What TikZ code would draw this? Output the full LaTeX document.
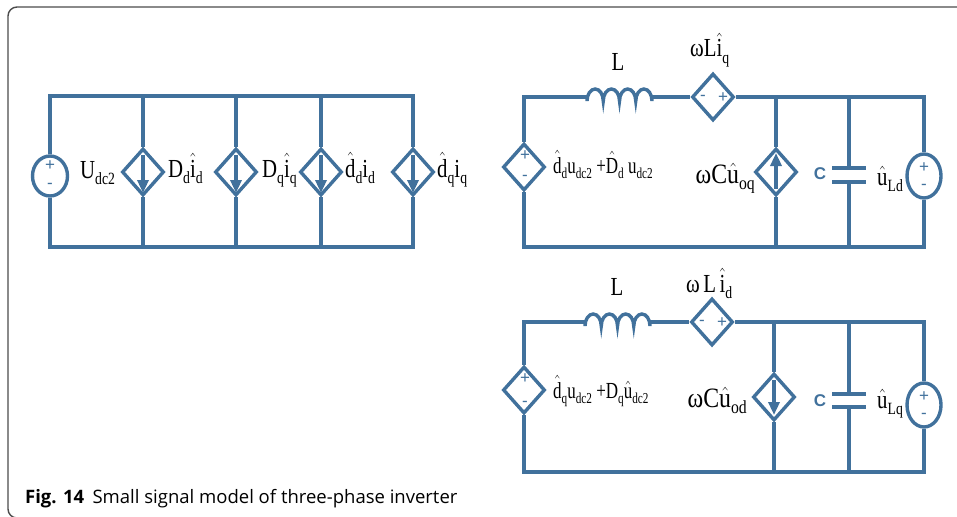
\documentclass[tikz,border=0pt]{standalone}
\usepackage{fontspec}
\setmainfont{Liberation Serif}
\newfontfamily\capfont{Open Sans}
\newfontfamily\symfont{Liberation Sans}
\usepackage{amsmath}
\usepackage{graphicx}
\usetikzlibrary{shapes.geometric,arrows.meta}
\definecolor{cblue}{RGB}{65,113,156}
\newcommand\hh[1]{$\hat{\text{#1}}$}
\newcommand\sub[1]{\raisebox{-0.24em}{\scalebox{0.66}{#1}}}
\newcommand\cs[1]{\scalebox{0.8}[1]{#1}}
\newcommand\csn[1]{\scalebox{0.74}[1]{#1}}
\newcommand\csb[1]{\scalebox{0.85}[1]{#1}}
\begin{document}
\begin{tikzpicture}[x=1pt,y=-1pt,
  wire/.style={cblue,line width=3.4pt},
  dsrc/.style={diamond,draw=cblue,line width=3.4pt,minimum width=42pt,minimum height=47pt,inner sep=0pt},
  vsrc/.style={ellipse,draw=cblue,line width=3.4pt,minimum width=35pt,minimum height=40pt,inner sep=0pt},
  vsrcr/.style={ellipse,draw=cblue,line width=3.4pt,minimum width=34pt,minimum height=44pt,inner sep=0pt},
  sgn/.style={text=cblue,font=\symfont\fontsize{17}{17}\selectfont,inner sep=0pt},
  lab/.style={font=\fontsize{26}{26}\selectfont,inner sep=0pt},
  labs/.style={font=\fontsize{23}{23}\selectfont,inner sep=0pt},
  labb/.style={font=\fontsize{28}{28}\selectfont,inner sep=0pt},
  capl/.style={text=cblue,font=\symfont\bfseries\fontsize{17}{17}\selectfont,inner sep=0pt},
  plate/.style={cblue,line width=3.8pt},
  carrow/.style={cblue,line width=3.4pt,-{Triangle[length=13pt,width=11pt]}}]
\useasboundingbox (0,0) rectangle (957,516);
\clip (0,0) rectangle (957,516);
% frame
\draw[line width=1.4pt,black!70,rounded corners=9pt] (8,7) rectangle (990,518);

% ---------------- left circuit ----------------
\node[vsrc] (U) at (50,176) {};
\node[sgn] (Up) at (50,166) {+};
\node[sgn] (Um) at (50,186) {-};
\node[dsrc] (S1) at (143,172) {};
\node[dsrc] (S2) at (236,172) {};
\node[dsrc] (S3) at (321,172) {};
\node[dsrc] (S4) at (413,172) {};
\coordinate (LT0) at (50,96);
\coordinate (LT4) at (413,96);
\coordinate (LB0) at (50,247);
\coordinate (LB4) at (413,247);
\draw[wire] (U.north) -- (LT0) -- (LT4) -- (S4.north);
\draw[wire] (U.south) -- (LB0) -- (LB4) -- (S4.south);
\foreach \s in {S1,S2,S3}{
  \draw[wire] (\s.north) -- (\s.north |- LT0);
  \draw[wire] (\s.south) -- (\s.south |- LB0);
}
\foreach \xx in {143,236,321,413}{
  \draw[carrow] (\xx,155) -- (\xx,193);
}
\node[lab,anchor=base west] (lU) at (80,178) {\cs{U\sub{dc2}}};
\node[lab,anchor=base west] (l1) at (168,177) {\cs{D\sub{d}\hh{i}\sub{d}}};
\node[lab,anchor=base west] (l2) at (262,177) {\cs{D\sub{q}\hh{i}\sub{q}}};
\node[lab,anchor=base west] (l3) at (345,177) {\cs{\hh{d}\sub{d}i\sub{d}}};
\node[lab,anchor=base west] (l4) at (437,177) {\cs{\hh{d}\sub{q}i\sub{q}}};

% ---------------- top right circuit ----------------
\node[dsrc] (DS1) at (524,167) {};
\node[sgn] at (525,156) {+};
\node[sgn] at (525,178) {-};
\node[dsrc] (W1) at (713,97) {};
\node[sgn] at (703,98) {-};
\node[sgn] at (723,98) {+};
\node[dsrc] (CS1) at (776,172) {};
\draw[carrow] (776,189) -- (776,153);
\node[vsrcr] (V1) at (924,176) {};
\node[sgn] at (924,168) {+};
\node[sgn] at (924,187) {-};
\coordinate (A1) at (524,97);
\coordinate (L1a) at (587,97);
\coordinate (L1b) at (652,97);
\coordinate (R1) at (924,97);
\coordinate (B1l) at (524,247);
\coordinate (B1r) at (924,247);
\coordinate (C1a) at (849,168);
\coordinate (C1b) at (849,182);
\draw[wire] (DS1.north) -- (A1) -- (L1a);
\draw[wire] (L1a) -- ++(0,-4pt)
   arc[start angle=180,end angle=0,x radius=8.125pt,y radius=12pt]
   arc[start angle=180,end angle=0,x radius=8.125pt,y radius=12pt]
   arc[start angle=180,end angle=0,x radius=8.125pt,y radius=12pt]
   arc[start angle=180,end angle=0,x radius=8.125pt,y radius=12pt]
   -- (L1b);
\draw[wire] (L1b) -- (W1.west);
\draw[wire] (W1.east) -- (R1) -- (V1.north);
\draw[wire] (V1.south) -- (B1r) -- (B1l) -- (DS1.south);
\draw[wire] (CS1.north) -- (CS1.north |- R1);
\draw[wire] (CS1.south) -- (CS1.south |- B1r);
\draw[wire] (C1a) -- (C1a |- R1);
\draw[wire] (C1b) -- (C1b |- B1r);
\draw[plate] ([xshift=-17pt]C1a) -- ([xshift=17pt]C1a);
\draw[plate] ([xshift=-17pt]C1b) -- ([xshift=17pt]C1b);
\node[lab] (lL1) at (618,62) {\cs{L}};
\node[lab,anchor=base west] (lW1) at (690,57) {\cs{ωL\hh{i}\sub{q}}};
\node[labs,anchor=base west] (lD1) at (553,173) {\csn{\hh{d}\sub{d}u\sub{dc2} +\hh{D}\sub{d} u\sub{dc2}}};
\node[labb,anchor=base east] (lC1) at (755,183) {\csb{ωC\hh{u}\sub{oq}}};
\node[capl] (cC1) at (820,174) {C};
\node[lab,anchor=base west] (lV1) at (877,185) {\cs{\hh{u}\sub{Ld}}};

% ---------------- bottom right circuit ----------------
\node[dsrc] (DS2) at (524,390) {};
\node[sgn] at (525,379) {+};
\node[sgn] at (525,404) {-};
\node[dsrc] (W2) at (712,322) {};
\node[sgn] at (702,323) {-};
\node[sgn] at (722,323) {+};
\node[dsrc] (CS2) at (774,397) {};
\draw[carrow] (774,380) -- (774,415);
\node[vsrcr] (V2) at (924,405) {};
\node[sgn] at (924,397) {+};
\node[sgn] at (924,416) {-};
\coordinate (A2) at (524,322);
\coordinate (L2a) at (585,322);
\coordinate (L2b) at (650,322);
\coordinate (R2) at (924,322);
\coordinate (B2l) at (524,472);
\coordinate (B2r) at (924,472);
\coordinate (C2a) at (849,394);
\coordinate (C2b) at (849,407);
\draw[wire] (DS2.north) -- (A2) -- (L2a);
\draw[wire] (L2a) -- ++(0,-4pt)
   arc[start angle=180,end angle=0,x radius=8.125pt,y radius=12pt]
   arc[start angle=180,end angle=0,x radius=8.125pt,y radius=12pt]
   arc[start angle=180,end angle=0,x radius=8.125pt,y radius=12pt]
   arc[start angle=180,end angle=0,x radius=8.125pt,y radius=12pt]
   -- (L2b);
\draw[wire] (L2b) -- (W2.west);
\draw[wire] (W2.east) -- (R2) -- (V2.north);
\draw[wire] (V2.south) -- (B2r) -- (B2l) -- (DS2.south);
\draw[wire] (CS2.north) -- (CS2.north |- R2);
\draw[wire] (CS2.south) -- (CS2.south |- B2r);
\draw[wire] (C2a) -- (C2a |- R2);
\draw[wire] (C2b) -- (C2b |- B2r);
\draw[plate] ([xshift=-17pt]C2a) -- ([xshift=17pt]C2a);
\draw[plate] ([xshift=-17pt]C2b) -- ([xshift=17pt]C2b);
\node[lab] (lL2) at (617,287) {\cs{L}};
\node[lab,anchor=base west] (lW2) at (686,292) {\cs{ω\,L\,\hh{i}\sub{d}}};
\node[labs,anchor=base west] (lD2) at (553,398) {\csn{\hh{d}\sub{q}u\sub{dc2} +D\sub{q}\hh{u}\sub{dc2}}};
\node[labb,anchor=base east] (lC2) at (747,407) {\csb{ωC\hh{u}\sub{od}}};
\node[capl] (cC2) at (820,401) {C};
\node[lab,anchor=base west] (lV2) at (877,408) {\cs{\hh{u}\sub{Lq}}};

% caption
\node[anchor=base west,inner sep=0pt,font=\capfont\fontsize{18.5}{18.5}\selectfont] (cap) at (25,503)
  {\textbf{Fig. 14}\hspace{0.45em}Small signal model of three-phase inverter};
\end{tikzpicture}
\end{document}
